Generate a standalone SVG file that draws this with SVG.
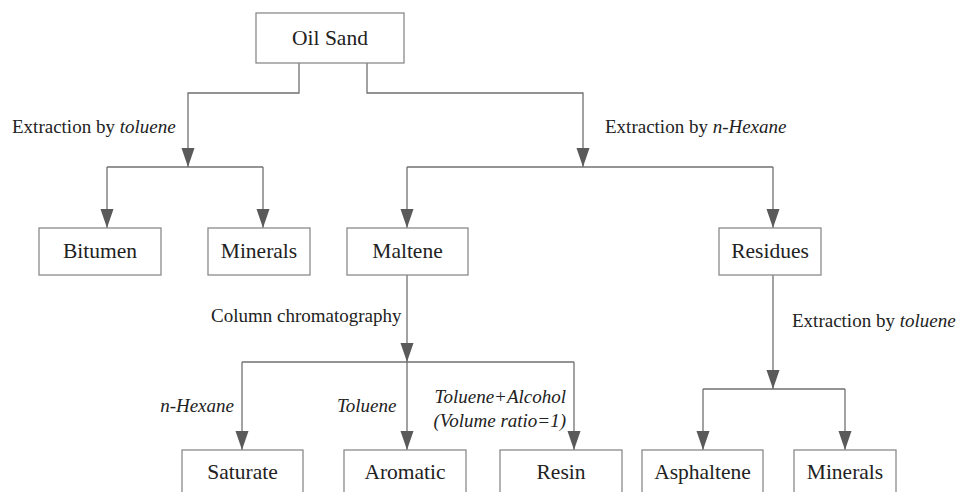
<svg xmlns="http://www.w3.org/2000/svg" width="956" height="492" viewBox="0 0 956 492">
<style>
.box{fill:#fff;stroke:#8a8a8a;stroke-width:1.3}
.t{font-size:21.5px;fill:#222;text-anchor:middle}
.l{font-size:19px;fill:#222}
.c{fill:none;stroke:#707070;stroke-width:1.3}
.a{fill:#5a5a5a}
</style>
<rect width="956" height="492" fill="#fff"/>
<g id="connectors">
<path class="c" d="M299,63 V93 H188 V167"/>
<path class="c" d="M107,167 H263"/>
<path class="c" d="M107,167 V228"/>
<path class="c" d="M263,167 V228"/>
<path class="c" d="M367,63 V93 H583 V167"/>
<path class="c" d="M407,167 H773"/>
<path class="c" d="M407,167 V228"/>
<path class="c" d="M773,167 V228"/>
<path class="c" d="M407,275 V362"/>
<path class="c" d="M242,362 H574"/>
<path class="c" d="M242,362 V450"/>
<path class="c" d="M407,362 V450"/>
<path class="c" d="M574,362 V450"/>
<path class="c" d="M773,275 V389"/>
<path class="c" d="M703,389 H845"/>
<path class="c" d="M703,389 V450"/>
<path class="c" d="M845,389 V450"/>
<g class="a">
<path d="M181.5,148 H194.5 L188,167 Z"/>
<path d="M100.5,209 H113.5 L107,228 Z"/>
<path d="M256.5,209 H269.5 L263,228 Z"/>
<path d="M576.5,148 H589.5 L583,167 Z"/>
<path d="M400.5,209 H413.5 L407,228 Z"/>
<path d="M766.5,209 H779.5 L773,228 Z"/>
<path d="M400.5,343 H413.5 L407,362 Z"/>
<path d="M235.5,431 H248.5 L242,450 Z"/>
<path d="M400.5,431 H413.5 L407,450 Z"/>
<path d="M567.5,431 H580.5 L574,450 Z"/>
<path d="M766.5,370 H779.5 L773,389 Z"/>
<path d="M696.5,431 H709.5 L703,450 Z"/>
<path d="M838.5,431 H851.5 L845,450 Z"/>
</g>
</g>
<g font-family="Liberation Serif, Times New Roman, serif">
<g id="labels">
<text class="l" x="12" y="133">Extraction by <tspan font-style="italic">toluene</tspan></text>
<text class="l" x="605" y="133">Extraction by <tspan font-style="italic">n-Hexane</tspan></text>
<text class="l" x="211" y="322">Column chromatography</text>
<text class="l" x="792" y="327">Extraction by <tspan font-style="italic">toluene</tspan></text>
<text class="l" x="234" y="412" text-anchor="end" font-style="italic">n-Hexane</text>
<text class="l" x="337" y="412" font-style="italic">Toluene</text>
<text class="l" x="566" y="403" text-anchor="end" font-style="italic">Toluene+Alcohol</text>
<text class="l" x="566" y="427" text-anchor="end" font-style="italic">(Volume ratio=1)</text>
</g>
<g id="oilsand"><rect class="box" x="256" y="13" width="148" height="50"/><text class="t" x="330" y="45">Oil Sand</text></g>
<g id="bitumen"><rect class="box" x="39" y="228" width="122" height="47"/><text class="t" x="100" y="258">Bitumen</text></g>
<g id="minerals1"><rect class="box" x="208" y="228" width="102" height="47"/><text class="t" x="259" y="258">Minerals</text></g>
<g id="maltene"><rect class="box" x="347" y="228" width="121" height="47"/><text class="t" x="407.5" y="258">Maltene</text></g>
<g id="residues"><rect class="box" x="719" y="228" width="102" height="47"/><text class="t" x="770" y="258">Residues</text></g>
<g id="saturate"><rect class="box" x="182" y="450" width="121" height="60"/><text class="t" x="242.5" y="479">Saturate</text></g>
<g id="aromatic"><rect class="box" x="344" y="450" width="122" height="60"/><text class="t" x="405" y="479">Aromatic</text></g>
<g id="resin"><rect class="box" x="500" y="450" width="122" height="60"/><text class="t" x="561" y="479">Resin</text></g>
<g id="asphaltene"><rect class="box" x="642" y="450" width="121" height="60"/><text class="t" x="702.5" y="479">Asphaltene</text></g>
<g id="minerals2"><rect class="box" x="794" y="450" width="102" height="60"/><text class="t" x="845" y="479">Minerals</text></g>
</g>
</svg>
